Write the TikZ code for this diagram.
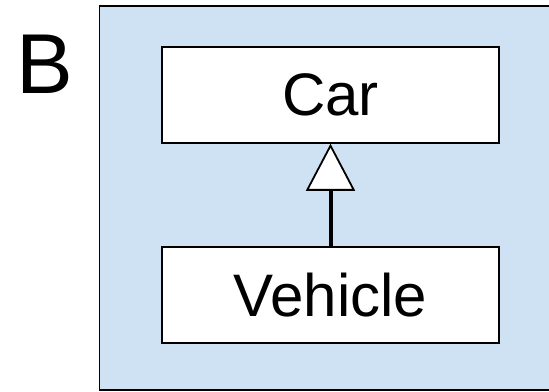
\documentclass[tikz,border=0pt]{standalone}
\usepackage{fontspec}
\setmainfont{Liberation Sans}
\usetikzlibrary{arrows.meta}
\definecolor{classbg}{HTML}{CFE2F3}
\begin{document}
\begin{tikzpicture}[x=1pt,y=-1pt,
  classbox/.style={draw,line width=1.5pt,fill=white,minimum width=337pt,minimum height=96pt,inner sep=0pt,font=\fontsize{60}{72}\selectfont},
  inherit/.style={line width=4pt,-{Triangle[fill=white,length=47pt,width=49pt,line width=1.8pt]}}]
\useasboundingbox (0,0) rectangle (549,391);
\fill[classbg] (99.3,6) rectangle (549,390);
\draw[line width=1.5pt] (549,6) -- (99.3,6) -- (99.3,390) -- (549,390);
\node[anchor=base,inner sep=0pt,font=\fontsize{85}{100}\selectfont] (lbl) at (44.5,93.3) {B};
\node[classbox] (car) at (330.5,95) {Car};
\node[classbox] (vehicle) at (330.5,295) {Vehicle};
\draw[inherit] (vehicle) -- (car);
\end{tikzpicture}
\end{document}
